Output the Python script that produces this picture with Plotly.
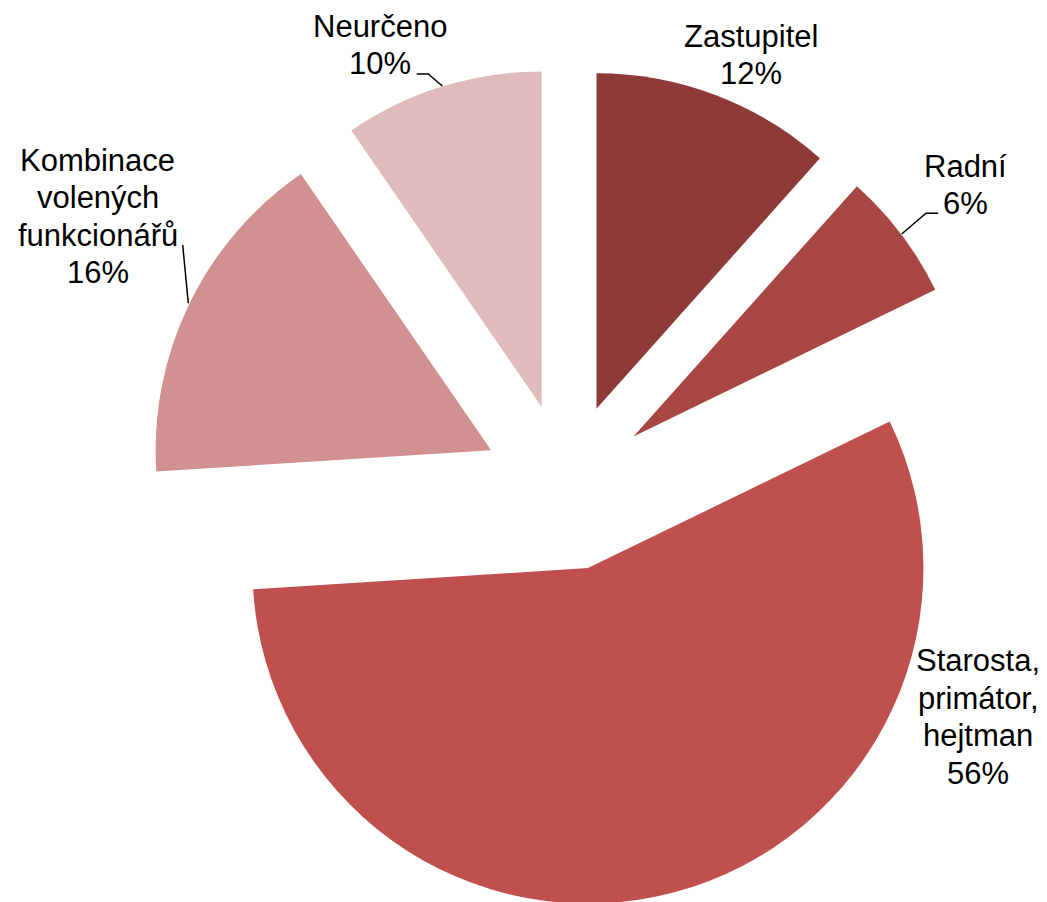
import plotly.graph_objects as go

# ---- data ----
labels = ["Zastupitel", "Radní", "Starosta, primátor, hejtman",
          "Kombinace volených funkcionářů", "Neurčeno"]
values = [11.6, 6.2, 56.2, 16.4, 9.6]
label_lines = [["Zastupitel"], ["Radní"], ["Starosta,", "primátor,", "hejtman"],
               ["Kombinace", "volených", "funkcionářů"], ["Neurčeno"]]
colors = ["#8E3A38", "#A84644", "#C0504D", "#D19190", "#E0BBBB"]

W, H = 1047, 902
OX, OY = 8, 8  # page body margin offset
# label block centres (page pixels) and line spacing
label_pos = [(751, 55), (965, 185), (978, 717), (97.5, 216.5), (380, 45)]
LINE_H = 37.5
FONT = dict(family="Liberation Sans, Arial, sans-serif", size=31, color="#000000")

fig = go.Figure(go.Pie(
    labels=labels, values=values, sort=False, direction="clockwise", rotation=0,
    pull=0.25, textinfo="none", hoverinfo="label+percent",
    marker=dict(colors=colors, line=dict(width=0)),
    domain=dict(x=[0.1325, 0.9345], y=[0.004, 0.9339]),
))

def px(x):
    return (x - OX) / W

def py(y):
    return 1 - (y - OY) / H

annotations = []
for lines, v, (cx, cy) in zip(label_lines, values, label_pos):
    all_lines = lines + [f"{round(v)}%"]
    n = len(all_lines)
    for i, t in enumerate(all_lines):
        y = cy + (i - (n - 1) / 2) * LINE_H
        annotations.append(dict(x=px(cx), y=py(y), xref="paper", yref="paper",
                                text=t, showarrow=False, font=FONT,
                                xanchor="center", yanchor="middle"))

leaders = [
    [(938.3, 213.3), (926, 213.3), (901.7, 234)],
    [(416.7, 74), (428.3, 74), (442.3, 86)],
    [(182.7, 245), (188.3, 303.3)],
]
shapes = []
for pts in leaders:
    path = "M " + " L ".join(f"{px(x)},{py(y)}" for x, y in pts)
    shapes.append(dict(type="path", path=path, xref="paper", yref="paper",
                       line=dict(color="#000000", width=1.5)))

fig.update_layout(
    width=W, height=H, margin=dict(l=0, r=0, t=0, b=0),
    paper_bgcolor="white", plot_bgcolor="white", showlegend=False,
    annotations=annotations, shapes=shapes,
)

fig.write_html("out.html")
